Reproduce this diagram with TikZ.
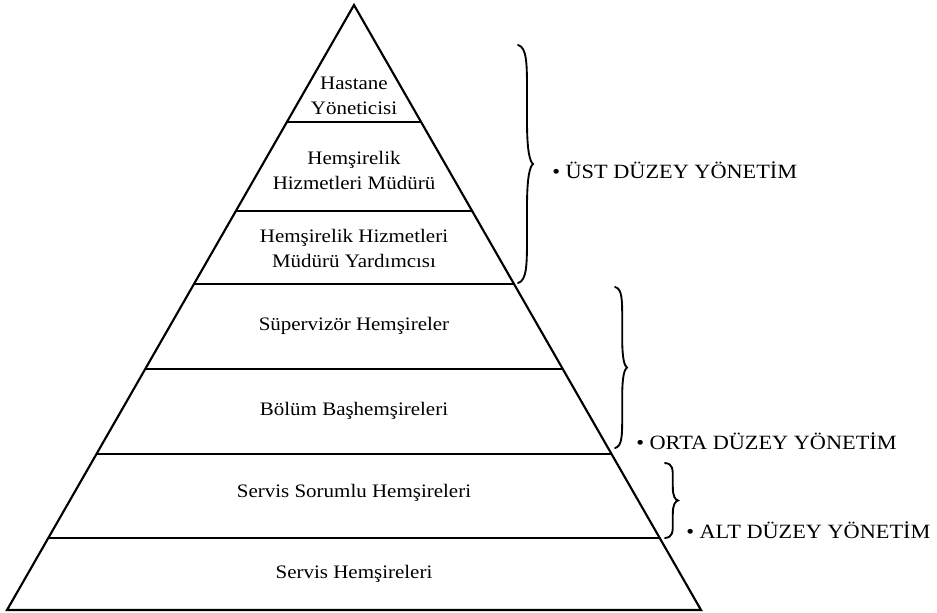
\documentclass[tikz,border=0pt]{standalone}
\usepackage{fontspec}
\setmainfont[FakeStretch=1.1]{Liberation Serif}
\usetikzlibrary{calc}
\newcommand{\mybrace}[4]{%
  \pgfmathsetmacro{\brcS}{#1+0.6*#4}%
  \pgfmathsetmacro{\brcH}{#3-#2}%
  \pgfmathsetmacro{\brcM}{(#2+#3)/2}%
  \pgfmathsetmacro{\brcT}{#1+#4}%
  \pgfmathsetmacro{\brcQ}{#1+0.8*#4}%
  \draw[brc] (#1,#2) .. controls (\brcS,{#2+0.01*\brcH}) and (\brcS,{#2+0.08*\brcH}) .. (\brcS,{#2+0.2*\brcH})
    -- (\brcS,{\brcM-0.18*\brcH}) .. controls (\brcS,{\brcM-0.05*\brcH}) and (\brcQ,{\brcM-0.01*\brcH}) .. (\brcT,\brcM)
    .. controls (\brcQ,{\brcM+0.01*\brcH}) and (\brcS,{\brcM+0.05*\brcH}) .. (\brcS,{\brcM+0.18*\brcH})
    -- (\brcS,{#3-0.2*\brcH}) .. controls (\brcS,{#3-0.08*\brcH}) and (\brcS,{#3-0.01*\brcH}) .. (#1,#3);%
}
\begin{document}
\begin{tikzpicture}[x=0.75pt,y=-0.75pt,
  pyr/.style={line width=1.6pt,line join=miter},
  brc/.style={line width=1.4pt,line cap=round},
  lbl/.style={align=center,inner sep=0pt,font=\fontsize{14.3}{18.75}\selectfont},
  side/.style={anchor=west,inner sep=0pt,font=\fontsize{15.2}{18.75}\selectfont}]
\useasboundingbox (0,0) rectangle (937,612);
\coordinate (A) at (354,5);
\coordinate (L) at (7,610);
\coordinate (R) at (701,610);
\draw[pyr] (A) -- (L) -- (R) -- cycle;
\foreach \t in {0.19339,0.34050,0.46116,0.60165,0.74215,0.88099}{
  \draw[pyr] ($(A)!\t!(L)$) -- ($(A)!\t!(R)$);
}
\node[lbl] (n1) at (354,96) {Hastane\\Yöneticisi};
\node[lbl] (n2) at (354,170) {Hemşirelik\\Hizmetleri Müdürü};
\node[lbl] (n3) at (354,248) {Hemşirelik Hizmetleri\\Müdürü Yardımcısı};
\node[lbl] (n4) at (354,326) {Süpervizör Hemşireler};
\node[lbl] (n5) at (354,411) {Bölüm Başhemşireleri};
\node[lbl] (n6) at (354,493) {Servis Sorumlu Hemşireleri};
\node[lbl] (n7) at (354,574) {Servis Hemşireleri};
\mybrace{518}{45}{283}{15}
\mybrace{615}{287}{448}{12}
\mybrace{665}{463}{538}{13}
\node[side] (s1) at (552,170) {• ÜST DÜZEY YÖNETİM};
\node[side] (s2) at (636,441) {• ORTA DÜZEY YÖNETİM};
\node[side] (s3) at (686,530) {• ALT DÜZEY YÖNETİM};
\end{tikzpicture}
\end{document}
